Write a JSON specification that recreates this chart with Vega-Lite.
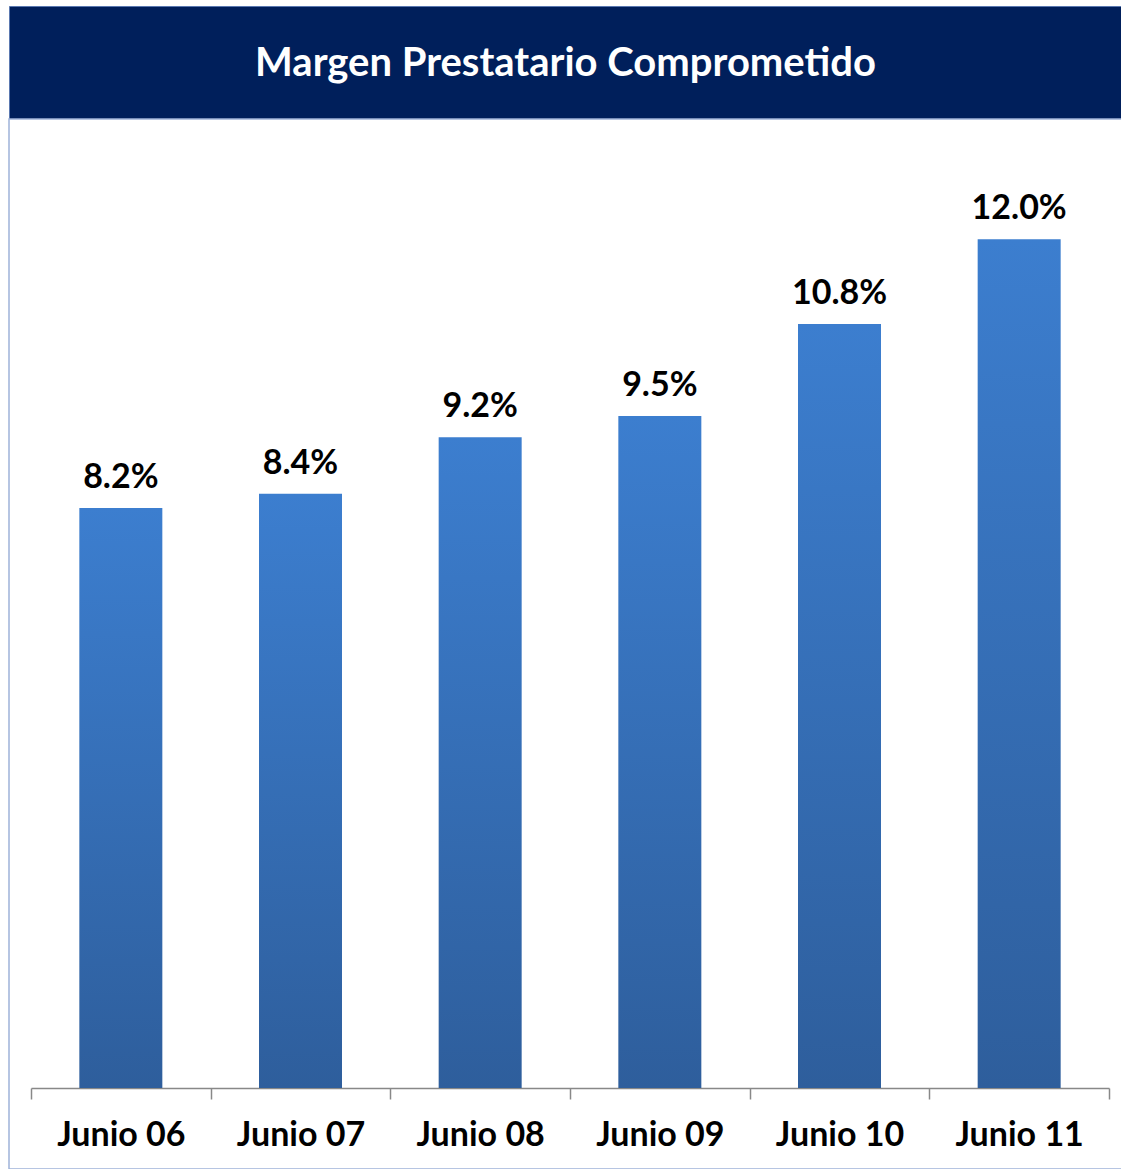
{
  "$schema": "https://vega.github.io/schema/vega-lite/v6.json",
  "autosize": {"type": "pad"},
  "padding": {"left": 8, "top": 5, "right": 0, "bottom": 0},
  "background": "white",
  "spacing": 0,
  "bounds": "flush",
  "config": {"font": "Lato"},
  "vconcat": [
    {
      "width": 1113,
      "height": 113,
      "view": {"fill": "#001F5B", "stroke": "#5A78B0", "strokeWidth": 1},
      "data": {"values": [{"title": "Margen Prestatario Comprometido"}]},
      "mark": {"type": "text", "font": "Lato", "fontWeight": "bold", "fontSize": 40, "color": "white", "baseline": "middle", "align": "center", "dy": 1},
      "encoding": {"text": {"field": "title"}}
    },
    {
      "width": 1113,
      "height": 1050,
      "view": {"fill": "white", "stroke": "#9FB3D9", "strokeWidth": 1.5},
      "data": {"values": [
        {"periodo": "Junio 06", "margen": 0.082},
        {"periodo": "Junio 07", "margen": 0.084},
        {"periodo": "Junio 08", "margen": 0.092},
        {"periodo": "Junio 09", "margen": 0.095},
        {"periodo": "Junio 10", "margen": 0.108},
        {"periodo": "Junio 11", "margen": 0.120}
      ]},
      "encoding": {
        "x": {
          "field": "periodo", "type": "nominal", "sort": null,
          "scale": {"range": [22, 1100], "paddingInner": 0, "paddingOuter": 0},
          "axis": {
            "title": null, "offset": -81, "labelAngle": 0,
            "labelFont": "Lato", "labelFontWeight": "bold", "labelFontSize": 34, "labelColor": "#000000",
            "labelPadding": 19, "domainColor": "#888888", "domainWidth": 1.5,
            "tickColor": "#888888", "tickWidth": 1.5, "tickSize": 11, "tickBand": "extent", "grid": false
          }
        },
        "y": {
          "field": "margen", "type": "quantitative",
          "scale": {"domain": [0, 0.137], "range": [969, 0], "nice": false, "zero": true},
          "axis": null
        }
      },
      "layer": [
        {
          "mark": {"type": "bar", "size": 83, "color": {"gradient": "linear", "x1": 0, "y1": 0, "x2": 0, "y2": 1, "stops": [{"offset": 0, "color": "#3C7ECF"}, {"offset": 1, "color": "#2E5E9C"}]}}
        },
        {
          "mark": {"type": "text", "baseline": "bottom", "dy": -13, "font": "Lato", "fontWeight": "bold", "fontSize": 34, "color": "#000000"},
          "encoding": {"text": {"field": "margen", "type": "quantitative", "format": ".1%"}}
        }
      ]
    }
  ]
}
